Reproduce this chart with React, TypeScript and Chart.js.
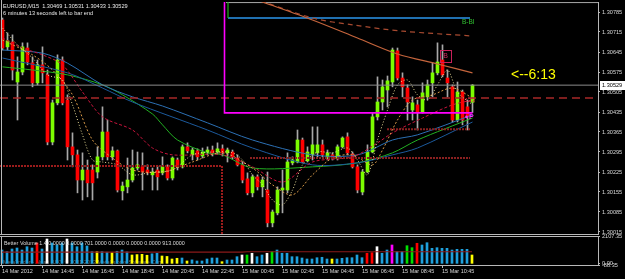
import React, { useEffect, useRef } from "react";
import { Chart, registerables } from "chart.js";

Chart.register(...registerables);

// ---------- candles (EURUSD M15) ----------
const opens = [
  1.30757, 1.30663, 1.3068, 1.3054, 1.30575, 1.30659, 1.30607, 1.30537, 1.306, 1.30565,
  1.3033, 1.30467, 1.30617, 1.30477, 1.30313, 1.30285, 1.30197, 1.30232, 1.30232, 1.30225,
  1.30278, 1.30365, 1.30278, 1.30299, 1.30159, 1.30173, 1.30197, 1.30239, 1.30243, 1.30232,
  1.30215, 1.30232, 1.30222, 1.30243, 1.30204, 1.30267, 1.30243, 1.30313, 1.30285, 1.30299,
  1.30281, 1.30292, 1.30302, 1.30295, 1.30306, 1.30292, 1.30295, 1.30274, 1.3025, 1.30201,
  1.30152, 1.30208, 1.30173, 1.30162, 1.30047, 1.30082, 1.30162, 1.30162, 1.30257, 1.3026,
  1.30337, 1.30264, 1.30285, 1.30292, 1.3032, 1.30274, 1.30285, 1.30274, 1.30313, 1.30348,
  1.30288, 1.30243, 1.30155, 1.30225, 1.30295, 1.30418, 1.3047, 1.30512, 1.3054, 1.30649,
  1.30554, 1.30519, 1.30442, 1.3046, 1.30435, 1.30488, 1.30537, 1.30572, 1.30617, 1.30554,
  1.30523, 1.30407, 1.30505, 1.30453, 1.30469,
];
const closes = [
  1.30659, 1.30684, 1.30582, 1.30575, 1.30663, 1.3061, 1.30537, 1.306, 1.30572, 1.3033,
  1.30467, 1.30617, 1.30467, 1.30313, 1.30285, 1.30197, 1.30232, 1.30187, 1.30187, 1.30278,
  1.30365, 1.30278, 1.30299, 1.30162, 1.30176, 1.30197, 1.30239, 1.3025, 1.30225, 1.30222,
  1.30225, 1.30208, 1.30243, 1.30204, 1.30274, 1.30243, 1.30313, 1.30299, 1.30302, 1.30278,
  1.30295, 1.30302, 1.30292, 1.30306, 1.30292, 1.30302, 1.30278, 1.3025, 1.30197, 1.30152,
  1.30208, 1.30173, 1.30197, 1.30047, 1.30085, 1.30162, 1.30169, 1.3026, 1.30267, 1.30337,
  1.3026, 1.30295, 1.3032, 1.3032, 1.30285, 1.30292, 1.30274, 1.30313, 1.30344, 1.30292,
  1.30243, 1.30162, 1.30225, 1.30295, 1.30418, 1.3047, 1.30523, 1.30544, 1.30652, 1.30554,
  1.30523, 1.3047, 1.30467, 1.30435, 1.30502, 1.3053, 1.30572, 1.3061, 1.30565, 1.30537,
  1.30407, 1.30505, 1.30407, 1.30418, 1.30529,
];
const highs = [
  1.30764, 1.30712, 1.30705, 1.30628, 1.30677, 1.30677, 1.30628, 1.30617, 1.30663, 1.30582,
  1.30477, 1.30635, 1.30628, 1.30495, 1.30362, 1.30302, 1.30292, 1.30267, 1.3025, 1.30313,
  1.30453, 1.30407, 1.30313, 1.30302, 1.3019, 1.30274, 1.30302, 1.30295, 1.30292, 1.3025,
  1.30239, 1.30246, 1.30278, 1.3025, 1.30278, 1.30274, 1.3032, 1.30327, 1.30309, 1.30306,
  1.30309, 1.30313, 1.30316, 1.30327, 1.3032, 1.30309, 1.30302, 1.30285, 1.3026, 1.30222,
  1.30215, 1.30215, 1.30208, 1.30225, 1.30092, 1.30173, 1.30232, 1.30292, 1.30278, 1.30372,
  1.30344, 1.30313, 1.30383, 1.30383, 1.30337, 1.30302, 1.30292, 1.3032, 1.30348, 1.30362,
  1.30295, 1.3025, 1.30232, 1.3032, 1.30431, 1.30558, 1.30547, 1.30561, 1.30659, 1.30659,
  1.30572, 1.3053, 1.30488, 1.30477, 1.30537, 1.30547, 1.30607, 1.30677, 1.3067, 1.30582,
  1.3053, 1.3054, 1.30512, 1.30477, 1.30531,
];
const lows = [
  1.30652, 1.30652, 1.30547, 1.30407, 1.30565, 1.306, 1.30523, 1.3053, 1.30537, 1.3032,
  1.3032, 1.3046, 1.3046, 1.30267, 1.30243, 1.30152, 1.30127, 1.30138, 1.30127, 1.30204,
  1.30267, 1.30267, 1.30267, 1.30155, 1.30127, 1.30152, 1.3019, 1.30232, 1.30162, 1.30215,
  1.30162, 1.30162, 1.30215, 1.30197, 1.30197, 1.30232, 1.30239, 1.30292, 1.30267, 1.30267,
  1.30274, 1.30285, 1.30281, 1.30288, 1.30281, 1.3026, 1.30271, 1.30246, 1.30187, 1.30145,
  1.30138, 1.30162, 1.30138, 1.30033, 1.30033, 1.30075, 1.30082, 1.30152, 1.3025, 1.30257,
  1.30257, 1.3026, 1.30267, 1.30278, 1.30278, 1.30267, 1.30267, 1.30267, 1.30309, 1.30285,
  1.30239, 1.30152, 1.30145, 1.30222, 1.30292, 1.30407, 1.30442, 1.30453, 1.30523, 1.30547,
  1.30488, 1.30407, 1.30407, 1.30372, 1.30431, 1.30477, 1.30488, 1.30565, 1.30558, 1.30488,
  1.304, 1.304, 1.3039, 1.30372, 1.30433,
];

// ---------- Better Volume ----------
const volumes = [
  1047, 919, 1123, 1199, 1047, 1297, 1199, 1577, 1123, 1880,
  1577, 1426, 1577, 1880, 1577, 1297, 1577, 1350, 919, 919,
  919, 880, 843, 950, 1047, 900, 669, 700, 720, 650,
  760, 800, 593, 560, 366, 420, 442, 215, 300, 215,
  215, 366, 442, 442, 162, 290, 290, 540, 669, 669,
  798, 540, 669, 798, 919, 1047, 798, 798, 540, 540,
  442, 366, 366, 464, 495, 366, 366, 366, 419, 464,
  464, 669, 464, 798, 843, 1297, 798, 1047, 1426, 919,
  919, 1373, 1222, 1555, 1426, 1600, 1176, 1222, 1176, 1176,
  1047, 1100, 1100, 1100, 669,
];
// N normal, L low, CU climax up, CD climax down, CH churn, CC climax churn
const volumeTypes = [
  "N", "N", "N", "N", "N", "N", "N", "CU", "N", "CD",
  "N", "N", "N", "CD", "N", "N", "N", "N", "N", "L",
  "N", "N", "L", "N", "N", "N", "L", "L", "L", "L",
  "N", "N", "L", "L", "L", "L", "N", "L", "N", "N",
  "N", "N", "N", "N", "L", "N", "N", "N", "CD", "CH",
  "CD", "N", "N", "CD", "CH", "N", "N", "N", "N", "N",
  "N", "N", "N", "N", "N", "N", "L", "N", "N", "N",
  "N", "N", "N", "CU", "CU", "CD", "N", "N", "CC", "N",
  "N", "CH", "CH", "CU", "N", "N", "N", "N", "N", "N",
  "N", "N", "N", "N", "L",
];
const volumeAvgIdx = [0, 48, 49, 94];
const volumeAvgVal = [880, 880, 913, 913];
const volumeTicks = [2107.35, 0, -88.35];

// ---------- axes ----------
const tickIndex = [0, 8, 16, 24, 32, 40, 48, 56, 64, 72, 80, 88];
const tickLabels = [
  "14 Mar 2012", "14 Mar 14:45", "14 Mar 16:45", "14 Mar 18:45", "14 Mar 20:45", "14 Mar 22:45",
  "15 Mar 00:45", "15 Mar 02:45", "15 Mar 04:45", "15 Mar 06:45", "15 Mar 08:45", "15 Mar 10:45",
];
const priceTicks = [
  1.30015, 1.30085, 1.30155, 1.30225, 1.30295, 1.30365, 1.30435, 1.30505, 1.30575, 1.30645,
  1.30715, 1.30785,
];

// ---------- indicator lines (sampled points: bar index / price) ----------
const greenMaIdx = [0, 6, 13, 20, 24, 30, 32, 35, 41, 44, 50, 62, 71, 78, 83, 94];
const greenMaVal = [1.30593, 1.30582, 1.30565, 1.3053, 1.30495, 1.30428, 1.3039, 1.30337, 1.30292, 1.30285, 1.30239, 1.30243, 1.30257, 1.30292, 1.30337, 1.30414];
const blueMa1Idx = [0, 8, 13, 20, 26, 32, 41, 50, 62, 71, 78, 83, 94];
const blueMa1Val = [1.30652, 1.30641, 1.30606, 1.3053, 1.30488, 1.30456, 1.30397, 1.30337, 1.30285, 1.30285, 1.30337, 1.30355, 1.30425];
const blueMa2Idx = [0, 13, 20, 26, 41, 50, 62, 71, 78, 83, 94];
const blueMa2Val = [1.30624, 1.30572, 1.30519, 1.3047, 1.30372, 1.30309, 1.3025, 1.30257, 1.30285, 1.30309, 1.304];
const crimsonMaIdx = [0, 4, 8, 12, 16, 20, 26, 30, 34, 44, 50, 56, 62, 70, 75, 78, 84, 90, 94];
const crimsonMaVal = [1.30694, 1.30659, 1.30635, 1.306, 1.30505, 1.30418, 1.30372, 1.30309, 1.30285, 1.30285, 1.30243, 1.3019, 1.3026, 1.30278, 1.30327, 1.30362, 1.30414, 1.3046, 1.30477];
const fastMaIdx = [0, 3, 6, 9, 12, 14, 16, 18, 20, 23, 26, 30, 34, 38, 42, 46, 48, 50, 52, 54, 56, 58, 60, 63, 66, 69, 71, 73, 75, 77, 79, 81, 83, 85, 87, 89, 91, 94];
const fastMaVal = [1.30729, 1.3067, 1.30624, 1.30565, 1.30547, 1.3046, 1.30355, 1.30267, 1.3026, 1.3025, 1.30215, 1.30225, 1.30232, 1.30285, 1.30295, 1.30292, 1.30267, 1.30215, 1.3018, 1.30127, 1.3011, 1.30162, 1.3025, 1.30295, 1.30292, 1.30309, 1.30267, 1.30215, 1.30337, 1.30442, 1.3053, 1.30547, 1.30495, 1.30477, 1.3053, 1.30582, 1.30505, 1.3046];
const midMaIdx = [0, 6, 10, 14, 18, 22, 26, 32, 38, 44, 50, 54, 58, 62, 66, 70, 74, 76, 79, 82, 86, 90, 94];
const midMaVal = [1.30687, 1.30635, 1.30582, 1.30495, 1.30337, 1.30274, 1.30232, 1.30225, 1.3026, 1.30292, 1.30239, 1.3018, 1.30145, 1.30215, 1.30274, 1.30285, 1.3025, 1.30302, 1.30407, 1.30477, 1.30495, 1.30519, 1.30484];
const slowMaIdx = [48, 52, 62, 71, 79, 87, 94];
const slowMaVal = [1.30845, 1.3082, 1.30757, 1.30694, 1.30638, 1.30603, 1.30572];
const slowDashIdx = [50, 62, 70, 80, 94];
const slowDashVal = [1.30834, 1.30764, 1.3074, 1.30718, 1.30701];

// ---------- drawn objects (bar index / price) ----------
const pivotLevel = 1.30484;
const topLevel = 1.30818;
const topLevelFrom = 44.7;
const magentaIdx = [44.4, 44.4, 94];
const magentaVal = [1.3083, 1.30432, 1.30432];
const blueBoxIdx = [45.1, 45.1];
const blueBoxVal = [1.3082, 1.30764];
const blueLevelIdx = [45.1, 93.5];
const blueLevelVal = [1.30764, 1.30764];
const lowBoxIdx = [-0.5, 43.9, 43.9];
const lowBoxVal = [1.30246, 1.30246, 1.30008];
const supportIdx = [49.5, 93.5];
const supportVal = [1.30274, 1.30274];
const support2Idx = [76.9, 93.5];
const support2Val = [1.30375, 1.30375];

const X_MIN = -0.5;
const X_MAX = 119.1;
const Y_MIN = 1.30008;
const Y_MAX = 1.3082;

const FONT = "'Liberation Sans', Arial, sans-serif";
const AXIS_TXT = "#d8d8d8";
const AXIS_LINE = "#b8b8b8";

const pts = (idx: number[], vals: number[]) => idx.map((x, i) => ({ x, y: vals[i] }));

function lineDs(data: any[], color: string, width: number, dash: number[] = [], tension = 0, order = 0) {
  return {
    type: "line" as const,
    data,
    borderColor: color,
    borderWidth: width,
    borderDash: dash,
    pointRadius: 0,
    fill: false,
    tension,
    order,
  };
}

export default function App() {
  const mainRef = useRef<HTMLCanvasElement>(null);
  const volRef = useRef<HTMLCanvasElement>(null);

  useEffect(() => {
    const n = opens.length;
    const idx = opens.map((_, i) => i);
    const up = "#7cfc00";
    const down = "#ff0000";
    const volColor: Record<string, string> = {
      N: "#1ea0dc", L: "#ffff00", CU: "#ff0000", CD: "#ffffff", CH: "#00e000", CC: "#ff00ff",
    };

    const titleText = `EURUSD,M15  ${opens[n - 1].toFixed(5)} ${highs[n - 1].toFixed(5)} ${lows[n - 1].toFixed(5)} ${closes[n - 1].toFixed(5)}`;
    const subText = "6 minutes 13 seconds left to bar end";

    const mainDecor = {
      id: "mainDecor",
      afterDatasetsDraw(chart: any) {
        const { ctx, chartArea: a, scales } = chart;
        const x = scales.x, y = scales.y;
        ctx.save();
        ctx.strokeStyle = AXIS_LINE;
        ctx.lineWidth = 1;
        ctx.beginPath();
        ctx.moveTo(1.5, 0);
        ctx.lineTo(1.5, a.bottom + 0.5);
        ctx.moveTo(0, a.bottom + 0.5);
        ctx.lineTo(a.right, a.bottom + 0.5);
        ctx.stroke();

        ctx.fillStyle = "#e8e8e8";
        ctx.font = `5.6px ${FONT}`;
        ctx.textAlign = "left";
        ctx.textBaseline = "alphabetic";
        ctx.fillText(titleText, 3, 7.5);
        ctx.fillText(subText, 3, 14.5);

        // timer arrow
        ctx.fillStyle = "#ffff00";
        ctx.font = `14px ${FONT}`;
        ctx.textBaseline = "middle";
        ctx.fillText("<--6:13", x.getPixelForValue(101.7), y.getPixelForValue(1.30565));

        // B box
        const bx = x.getPixelForValue(88.6), by = y.getPixelForValue(1.30631);
        ctx.strokeStyle = "#c8205a";
        ctx.strokeRect(Math.round(bx - 5.5) + 0.5, Math.round(by - 6) + 0.5, 11, 12);
        ctx.fillStyle = "#d02860";
        ctx.font = `7px ${FONT}`;
        ctx.textAlign = "center";
        ctx.fillText("B", bx, by + 0.5);

        ctx.textAlign = "left";
        ctx.fillStyle = "#30c030";
        ctx.font = `6.5px ${FONT}`;
        ctx.fillText("B-BI", x.getPixelForValue(91.9), y.getPixelForValue(1.3075));

        ctx.fillStyle = "#e02040";
        ctx.font = `6px ${FONT}`;
        ctx.fillText("123", x.getPixelForValue(92.5), y.getPixelForValue(1.30477));

        ctx.fillStyle = "#ff30ff";
        const px = x.getPixelForValue(92.8), py = y.getPixelForValue(1.30418);
        ctx.beginPath();
        ctx.arc(px, py, 1.3, 0, Math.PI * 2);
        ctx.fill();
        ctx.font = `bold 7px ${FONT}`;
        ctx.fillText("P", px + 2.5, py);
        ctx.restore();
      },
      afterDraw(chart: any) {
        const { ctx, chartArea: a, scales } = chart;
        const py = Math.round(scales.y.getPixelForValue(closes[n - 1]));
        ctx.save();
        ctx.fillStyle = "#ffffff";
        ctx.fillRect(a.right + 2, py - 4, 625 - a.right - 2, 9);
        ctx.fillStyle = "#000000";
        ctx.font = `5.6px ${FONT}`;
        ctx.textAlign = "left";
        ctx.textBaseline = "middle";
        ctx.fillText(closes[n - 1].toFixed(5), a.right + 4, py + 0.5);
        ctx.restore();
      },
    };

    const fullSpan = (v: number) => [{ x: X_MIN, y: v }, { x: X_MAX, y: v }];

    const main = new Chart(mainRef.current as HTMLCanvasElement, {
      type: "bar",
      data: {
        datasets: [
          lineDs(pts(slowMaIdx, slowMaVal), "#c4643c", 1.2, [], 0.3),
          lineDs(pts(slowDashIdx, slowDashVal), "#a84a30", 1.2, [5, 4], 0.3),
          lineDs(pts(magentaIdx, magentaVal), "#ff00ff", 1.6),
          lineDs(pts(blueBoxIdx, blueBoxVal), "#20b020", 1.2),
          lineDs(pts(blueLevelIdx, blueLevelVal), "#2070b0", 1.8),
          lineDs([{ x: topLevelFrom, y: topLevel }, { x: X_MAX, y: topLevel }], "#a8a8a8", 1),
          lineDs(fullSpan(closes[n - 1]), "#8c8c8c", 1),
          lineDs(fullSpan(pivotLevel), "#a82828", 1.5, [8, 5]),
          lineDs(pts(lowBoxIdx, lowBoxVal), "#9a1c1c", 2, [2, 1]),
          lineDs(pts(supportIdx, supportVal), "#8a2020", 2, [2, 1]),
          lineDs(pts(support2Idx, support2Val), "#8a2020", 2, [2, 1]),
          lineDs(pts(fastMaIdx, fastMaVal), "#e8dc98", 1, [1, 2], 0.3),
          lineDs(pts(midMaIdx, midMaVal), "#d89a48", 1, [2, 2], 0.3),
          lineDs(pts(crimsonMaIdx, crimsonMaVal), "#c8143c", 1, [3, 2], 0.3),
          lineDs(pts(blueMa1Idx, blueMa1Val), "#2c70b4", 1, [], 0.3),
          lineDs(pts(blueMa2Idx, blueMa2Val), "#1c5a9c", 1, [], 0.3),
          lineDs(pts(greenMaIdx, greenMaVal), "#22b022", 1, [], 0.3),
          {
            type: "bar" as const,
            data: idx.map((i) => ({ x: i, y: [opens[i], closes[i]] })) as any,
            backgroundColor: idx.map((i) => (closes[i] >= opens[i] ? up : down)),
            barThickness: 3,
            minBarLength: 1,
            grouped: false,
            order: 2,
          },
          {
            type: "bar" as const,
            data: idx.map((i) => ({ x: i, y: [lows[i], highs[i]] })) as any,
            backgroundColor: "#a8a8a8",
            barThickness: 1,
            grouped: false,
            order: 3,
          },
        ] as any,
      },
      options: {
        animation: false,
        responsive: false,
        maintainAspectRatio: false,
        devicePixelRatio: 1,
        events: [],
        layout: { padding: { left: 0, right: 0, top: 2, bottom: 2 } },
        plugins: { legend: { display: false }, tooltip: { enabled: false }, title: { display: false } },
        scales: {
          x: {
            type: "linear",
            min: X_MIN,
            max: X_MAX,
            display: false,
            offset: false,
            grid: { offset: false },
          },
          y: {
            type: "linear",
            position: "right",
            min: Y_MIN,
            max: Y_MAX,
            afterBuildTicks: (s: any) => {
              s.ticks = priceTicks.map((v) => ({ value: v }));
            },
            afterFit: (s: any) => {
              s.width = 27;
              s.paddingTop = 0;
              s.paddingBottom = 0;
            },
            ticks: {
              callback: (v: any) => Number(v).toFixed(5),
              color: AXIS_TXT,
              font: { size: 5.6, family: FONT },
              padding: 2,
              autoSkip: false,
            },
            grid: { display: true, drawOnChartArea: false, drawTicks: true, tickLength: 2, color: AXIS_LINE },
            border: { display: true, color: AXIS_LINE },
          },
        },
      } as any,
      plugins: [mainDecor],
    });

    const volLabel = "Better Volume 1.4 0.0000 0.0000 701.0000 0.0000 0.0000 0.0000 913.0000";
    const watermark = "MetaTrader - Alpari (UK), \u00A9 2001-2012 MetaQuotes Software Corp.";
    const volDecor = {
      id: "volDecor",
      beforeDatasetsDraw(chart: any) {
        const { ctx, chartArea: a } = chart;
        ctx.save();
        ctx.fillStyle = "#6e6e6e";
        ctx.font = `5.4px ${FONT}`;
        ctx.textAlign = "left";
        ctx.textBaseline = "alphabetic";
        ctx.fillText(watermark, 3, a.bottom - 1);
        ctx.restore();
      },
      afterDatasetsDraw(chart: any) {
        const { ctx, chartArea: a } = chart;
        ctx.save();
        ctx.strokeStyle = AXIS_LINE;
        ctx.lineWidth = 1;
        ctx.beginPath();
        ctx.moveTo(0, a.top + 0.5);
        ctx.lineTo(a.right, a.top + 0.5);
        ctx.moveTo(1.5, a.top);
        ctx.lineTo(1.5, a.bottom + 0.5);
        ctx.stroke();
        ctx.fillStyle = "#d8d8d8";
        ctx.font = `5.4px ${FONT}`;
        ctx.textAlign = "left";
        ctx.textBaseline = "alphabetic";
        ctx.fillText(volLabel, 4, a.top + 9);
        ctx.restore();
      },
    };

    const vol = new Chart(volRef.current as HTMLCanvasElement, {
      type: "bar",
      data: {
        datasets: [
          lineDs(pts(volumeAvgIdx, volumeAvgVal), "#8b1a1a", 1.2),
          {
            type: "bar" as const,
            data: idx.map((i) => ({ x: i, y: volumes[i] })) as any,
            backgroundColor: idx.map((i) => volColor[volumeTypes[i]]),
            barThickness: 2,
            grouped: false,
            order: 2,
          },
        ] as any,
      },
      options: {
        animation: false,
        responsive: false,
        maintainAspectRatio: false,
        devicePixelRatio: 1,
        events: [],
        layout: { padding: { left: 0, right: 0, top: 6, bottom: 0 } },
        plugins: { legend: { display: false }, tooltip: { enabled: false }, title: { display: false } },
        scales: {
          x: {
            type: "linear",
            min: X_MIN + 0.1,
            max: X_MAX + 0.1,
            offset: false,
            afterBuildTicks: (s: any) => {
              s.ticks = tickIndex.map((v) => ({ value: v }));
            },
            afterFit: (s: any) => {
              s.height = 14;
              s.paddingLeft = 0;
              s.paddingRight = 0;
            },
            ticks: {
              callback: (v: any) => tickLabels[tickIndex.indexOf(Number(v))] ?? "",
              color: AXIS_TXT,
              font: { size: 5.5, family: FONT },
              padding: 0,
              align: "start",
              maxRotation: 0,
              autoSkip: false,
            },
            grid: { display: true, offset: false, drawOnChartArea: false, drawTicks: true, tickLength: 3, color: AXIS_LINE },
            border: { display: true, color: AXIS_LINE },
          },
          y: {
            type: "linear",
            position: "right",
            min: -88.35,
            max: 2107.35,
            afterBuildTicks: (s: any) => {
              s.ticks = volumeTicks.map((v) => ({ value: v }));
            },
            afterFit: (s: any) => {
              s.width = 27;
              s.paddingTop = 0;
              s.paddingBottom = 0;
            },
            ticks: {
              callback: (v: any) => Number(v).toFixed(2),
              color: AXIS_TXT,
              font: { size: 5.6, family: FONT },
              padding: 2,
              autoSkip: false,
            },
            grid: { display: true, drawOnChartArea: false, drawTicks: true, tickLength: 2, color: AXIS_LINE },
            border: { display: true, color: AXIS_LINE },
          },
        },
      } as any,
      plugins: [volDecor],
    });

    return () => {
      main.destroy();
      vol.destroy();
    };
  }, []);

  return (
    <div style={{ position: "fixed", left: 0, top: 0, width: 625, height: 279, background: "#000", overflow: "hidden" }}>
      <canvas ref={mainRef} width={625} height={236} style={{ position: "absolute", left: 0, top: 0, width: 625, height: 236 }} />
      <canvas ref={volRef} width={625} height={49} style={{ position: "absolute", left: 0, top: 230, width: 625, height: 49 }} />
    </div>
  );
}
